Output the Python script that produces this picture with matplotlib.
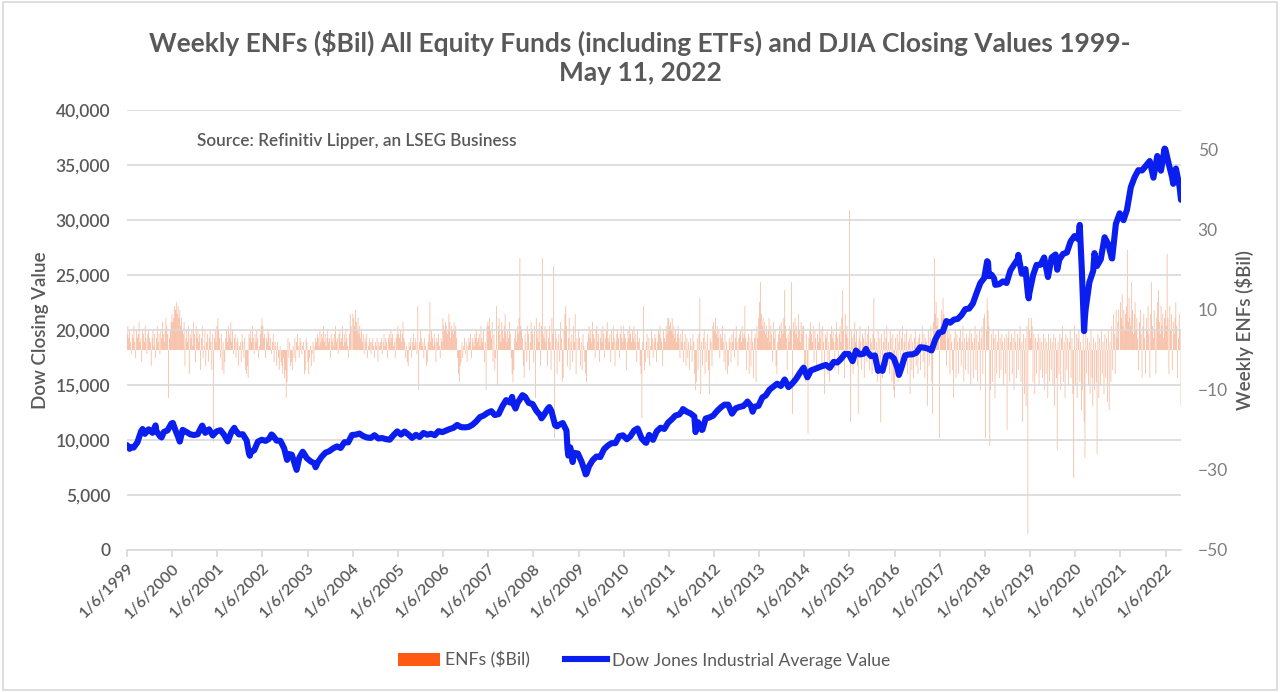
import matplotlib
matplotlib.use('Agg')
import matplotlib.pyplot as plt
from matplotlib.patches import Patch, Rectangle
from matplotlib.lines import Line2D
from matplotlib.ticker import FuncFormatter
import pandas as pd

plt.rcParams['font.family'] = ['Lato', 'DejaVu Sans']

# ---------------- DATA ----------------
title = "Weekly ENFs ($Bil) All Equity Funds (including ETFs) and DJIA Closing Values 1999-\nMay 11, 2022"
source_note = "Source: Refinitiv Lipper, an LSEG Business"
left_label = "Dow Closing Value"
right_label = "Weekly ENFs ($Bil)"
bar_series_name = "ENFs ($Bil)"
line_series_name = "Dow Jones Industrial Average Value"

tick_years = list(range(1999, 2023))
tick_labels = [f"1/6/{y}" for y in tick_years]

# Weekly equity net flows ($Bil), one value per Wednesday of each year
enf_1999 = [4, 6, 3, 5, 2, -1, 4, 3, 6, 2, -2, 5, 3, 4, 7, 2, 3, -3, 5, 4, 2, 6, 3, -1, 4, 5, 3, 2, -4, 3, 5, 1, 4, -2, 3, 6, 2, 4, -1, 5, 3, 7, 4, 2, 5, 8, 6, 4, -12, 3, 5, 7]
enf_2000 = [9, 7, 8, 11, 10, 12, 9, 11, 8, 10, 6, 8, 5, 4, 7, -4, 3, 5, 2, 6, -6, 4, 3, 5, 1, 7, 4, -3, 6, 3, 5, 2, 4, -5, 3, 6, -2, 1, 5, -4, 2, 4, -3, 3, 5, 2, -5, 4, -23, 3, 5, 2]
enf_2001 = [6, 8, 5, 3, -2, 4, -5, 2, -6, -3, 3, 5, 2, 6, 4, 3, 7, 2, 5, -1, 3, 4, -2, 2, 3, -4, 1, 2, -3, 4, 2, -2, 3, -5, -6, -4, -7, 4, 3, 5, 2, 6, 3, -1, 4, 2, 5, 3, -2, 1, 4, 6]
enf_2002 = [8, 6, 3, 4, -2, 3, 2, 5, 4, 1, 3, -1, 2, 4, -3, 2, 1, -4, 2, -2, -5, 1, -3, -4, -6, -2, -7, -5, -12, -8, 3, -2, 2, -4, -3, -5, 1, -2, 3, -3, 2, 4, 1, -2, 3, 2, -1, 1, 2, -6, -5, 3]
enf_2003 = [2, -3, -6, -2, 1, -4, -1, 2, -3, 1, 3, 2, 4, 3, 1, 5, 2, 4, 3, 6, 2, 4, 1, 3, 5, 2, 3, -2, 4, 2, 3, 1, 4, 6, 2, 3, -1, 4, 5, 2, 3, 6, 1, 4, 2, 5, 3, 1, -2, 4, 9, 6]
enf_2004 = [9, 8, 6, 10, 7, 5, 8, 4, 6, 3, 5, 2, 4, -1, 3, 2, 4, -2, 1, 3, 2, -1, 2, 3, 1, -2, 2, 1, 3, -3, 2, 1, 2, 3, -1, 2, 4, 1, 3, 2, -2, 3, 4, 2, 5, 3, 4, 1, 2, -2, 3, 4]
enf_2005 = [6, 4, 3, 5, 2, 4, 7, 3, 2, -2, 1, -3, -4, 2, 1, 3, -2, 2, 4, 1, 3, 2, -1, 11, -10, 2, 5, 3, 1, 2, -2, 3, 1, -4, -3, 2, 4, 12, 2, 5, 3, 1, 4, 2, -3, 3, 2, 4, 1, -2, 3, 2]
enf_2006 = [8, 6, 5, 7, 6, 4, 5, 9, 7, 3, 6, 5, 4, 7, 5, 6, 3, -2, -6, -8, -4, -3, 2, -2, 1, 3, -1, 2, -3, 1, 3, 2, 4, -2, 3, 2, 1, 4, 3, 5, 2, 3, 4, 1, 6, 3, 2, 5, -3, 2, -10, 6]
enf_2007 = [7, 6, 8, 5, 3, 7, -3, 4, -5, -2, 11, -9, 6, 8, 4, 2, 7, 5, 3, 6, 9, 4, 2, 5, 3, 7, 4, -2, -6, -8, -5, 3, 5, 2, 6, 4, 8, 23, 6, 5, 3, -4, -7, 4, 2, -3, 6, 4, -5, 2, 7, 5]
enf_2008 = [4, -3, 6, -12, 8, 3, 5, 2, 7, -4, 6, 23, 4, 3, 6, 2, 5, -4, 3, 6, 2, -5, 8, 4, 21, -22, 5, 3, -6, 2, 4, -3, 7, 3, -8, -7, 5, 9, 11, 6, -4, 3, 8, -5, 2, 4, -3, 6, 2, 9, -6, 3]
enf_2009 = [5, 3, -4, 2, -5, 4, 1, -3, -6, -8, 2, 4, 6, 3, 5, 2, 7, 4, 3, -2, 5, 6, 2, 4, -3, 3, 5, 2, 6, 4, -2, 3, 5, 7, 3, 2, 4, -3, 5, 2, 6, 3, -4, 2, 4, 5, 3, -2, 4, 6, 3, 2]
enf_2010 = [6, 4, 3, -5, 2, 5, 3, 6, 4, 2, 5, 3, 6, 2, 4, -3, 5, 2, 3, -4, -6, -17, 2, 11, -5, -3, 2, 4, -2, 3, -4, 1, 5, 3, -2, 2, 4, 3, -3, 2, 5, 4, 6, 3, 2, -4, 5, 3, 2, 6, 4, 8]
enf_2011 = [8, 6, 7, 5, 8, 4, 6, 3, 5, 2, 4, 6, 3, -2, 4, 2, 5, -3, 2, 4, -4, 3, -2, 2, -5, 3, 1, -3, 4, 2, -6, -10, -8, 3, -5, 4, 13, -11, 2, -4, 3, 5, -6, 2, -3, 4, -5, -11, 3, 2, -4, 6]
enf_2012 = [7, 5, 8, 4, 6, 3, 5, -2, 4, 3, 6, 2, -3, 4, -5, 2, -6, -4, 3, 2, -3, 4, 2, 5, -2, 3, 6, 2, -4, 3, 4, 5, 2, 6, 3, 4, 11, 3, -5, 2, 4, -6, 3, -4, 5, 2, -7, 3, 4, -8, 6, 3]
enf_2013 = [8, 12, 17, 9, 6, 8, 5, 7, 4, 6, 3, 5, 8, 2, 6, 4, -3, 7, 3, 5, -4, -6, 2, 4, 6, 3, 7, 5, 4, 8, 15, 6, 3, -5, 4, 2, 6, 5, 17, -16, 7, 5, 8, 4, 6, 3, 9, 5, 2, 7, 4, 6]
enf_2014 = [6, -4, -8, 4, -6, -21, 3, 5, 7, 4, 2, 6, -3, 5, 3, -5, 4, 2, 7, 3, 5, -4, 6, 2, -11, 4, 3, 5, -6, 2, -8, 4, 6, 3, 5, 2, -5, 4, 7, 3, -6, 4, 6, 2, 8, 15, 5, -7, 9, 4, 6, 3]
enf_2015 = [35, -18, 5, 3, -6, 4, 7, 2, 5, -4, -16, 3, 6, 2, -5, 4, 3, -7, 5, 2, -3, 4, 6, -5, 3, 2, -6, 4, 13, 3, -4, 2, -8, 5, -6, 3, -18, 4, -7, 2, 5, -5, 3, 6, -4, 2, -6, 5, 3, -8, 4, -10]
enf_2016 = [-12, 3, -6, 4, -8, 2, 5, -4, 3, 6, -5, 2, 4, -3, 5, -6, 2, 3, -11, 4, -5, 2, -7, 3, 5, -4, 2, -6, 3, 4, -5, 2, 6, -3, 4, -7, 3, 2, -14, 5, -4, 3, 6, -8, -16, 7, 23, 9, 12, 6, 8, 4]
enf_2017 = [-22, 6, 10, 8, 13, 9, 5, 7, -4, 6, 3, 5, -6, 4, 2, -5, -12, 3, 5, -7, 4, 2, -6, 3, 5, -4, 2, 6, -8, 3, -5, 4, 2, -6, 3, 5, -9, 4, 2, -7, 3, 6, -5, 4, -8, 2, 5, -10, 3, 6, -6, 8]
enf_2018 = [9, -22, 5, 13, 10, 6, -24, -10, 4, -8, 5, 3, -12, 4, -6, 2, 5, -7, 3, -5, 4, 2, -9, 3, -6, 4, -20, 3, 5, -8, 2, 4, -6, 3, -10, 5, 2, -7, 4, -5, 3, 6, -8, 2, -18, 4, -11, 3, -14, 6, -46, 8]
enf_2019 = [5, 3, 8, 6, -8, 4, -11, 3, -6, 2, 4, -9, 3, -5, 2, -7, 4, -10, 3, -6, 2, -12, 4, -8, 3, -5, 2, -9, 4, -14, 3, -7, -25, 2, -6, 4, -10, 3, 6, -8, 2, -12, 4, -5, 3, -9, 2, 5, -7, 3, -11, -32]
enf_2020 = [6, -9, 4, -12, 3, 5, -8, 2, -15, -10, 4, -18, -27, 4, -6, 3, -9, 2, -11, 5, -7, -14, 3, -10, 2, -8, -26, 4, -12, 3, -9, 5, -6, 2, -11, 4, -7, 3, -13, 5, -15, 2, -8, 6, -5, 9, 4, -6, 10, 3, 7, 10]
enf_2021 = [12, 8, 14, 6, 10, 5, 9, 11, 25, 7, 13, 8, 6, 17, 10, 4, 9, 12, 5, 8, 3, -5, 7, 10, 4, -7, 6, 9, 3, -6, 8, 5, 11, 4, -7, 9, 17, 6, 3, 10, 5, -6, 8, 12, 15, 7, 4, 11, 6, 9, 3, 8]
enf_2022 = [10, 6, 24, 8, -6, 11, 5, 9, -5, 7, 4, 8, 12, 6, -7, 3, 9, 5, -14]

# DJIA month-end closes
dow_1999 = [9359, 9307, 9786, 10789, 10560, 10971, 10655, 10829, 10337, 10729, 10878, 11497]
dow_2000 = [10941, 10128, 10922, 10734, 10522, 10448, 10522, 11215, 10651, 10971, 10415, 10787]
dow_2001 = [10887, 10495, 9879, 10735, 10912, 10502, 10523, 9950, 8848, 9075, 9852, 10021]
dow_2002 = [9920, 10106, 10404, 9946, 9925, 9243, 8737, 8664, 7592, 8397, 8896, 8342]
dow_2003 = [8054, 7891, 7992, 8480, 8850, 8985, 9234, 9416, 9275, 9801, 9782, 10454]
dow_2004 = [10488, 10584, 10358, 10226, 10188, 10435, 10140, 10174, 10080, 10027, 10428, 10783]
dow_2005 = [10490, 10766, 10504, 10193, 10467, 10275, 10641, 10482, 10569, 10440, 10806, 10718]
dow_2006 = [10865, 10993, 11109, 11367, 11168, 11150, 11186, 11381, 11679, 12081, 12222, 12463]
dow_2007 = [12622, 12269, 12354, 13063, 13628, 13409, 13212, 13358, 13896, 13930, 13372, 13265]
dow_2008 = [12650, 12266, 12263, 12820, 12638, 11350, 11378, 11544, 10851, 9325, 8829, 8776]
dow_2009 = [8001, 7063, 7609, 8168, 8500, 8447, 9172, 9496, 9712, 9713, 10345, 10428]
dow_2010 = [10067, 10325, 10857, 11009, 10137, 9774, 10466, 10015, 10788, 11118, 11006, 11578]
dow_2011 = [11892, 12226, 12320, 12811, 12570, 12414, 12143, 11614, 10913, 11955, 12046, 12218]
dow_2012 = [12633, 12952, 13212, 13214, 12393, 12880, 13009, 13091, 13437, 13096, 13026, 13104]
dow_2013 = [13861, 14054, 14579, 14840, 15116, 14910, 15500, 14810, 15130, 15546, 16086, 16577]
dow_2014 = [15699, 16322, 16458, 16581, 16717, 16827, 16563, 17098, 17043, 17391, 17828, 17823]
dow_2015 = [17165, 18133, 17776, 17841, 18011, 17620, 17690, 16528, 16285, 17664, 17720, 17425]
dow_2016 = [16466, 16517, 17685, 17774, 17787, 17930, 18432, 18401, 18308, 18142, 19124, 19763]
dow_2017 = [19864, 20812, 20663, 20941, 21009, 21350, 21891, 21948, 22405, 23377, 24272, 24719]
dow_2018 = [26149, 25029, 24103, 24163, 24416, 24271, 25415, 25965, 26458, 25116, 25538, 23327]
dow_2019 = [24999, 25916, 25929, 26593, 24815, 26600, 26864, 26403, 26917, 27046, 28051, 28538]
dow_2020 = [28256, 25409, 21917, 24346, 25383, 25813, 26428, 28430, 27782, 26502, 29639, 30606]
dow_2021 = [29983, 30932, 32982, 33875, 34529, 34503, 34935, 35361, 33844, 35820, 34484, 36338]
dow_2022 = [35132, 33893, 34678, 32977]

# DJIA weekly (Wednesday) closes at turning points
dow_extra_dates = ["1999-01-06", "1999-01-27", "1999-05-12", "1999-08-25", "1999-10-13",
                   "2000-01-12", "2000-03-08", "2000-09-06", "2001-05-23", "2001-09-19",
                   "2001-09-26", "2002-03-20", "2002-07-24", "2002-10-09", "2002-11-27",
                   "2003-03-12", "2007-07-18", "2007-08-15", "2007-10-10", "2008-03-12",
                   "2008-05-14", "2008-07-16", "2008-10-08", "2008-10-15", "2008-11-19",
                   "2009-03-04", "2009-03-11", "2010-04-28", "2010-07-07", "2011-04-27",
                   "2011-08-10", "2011-10-05", "2012-10-03", "2012-11-14", "2015-05-20",
                   "2015-08-26", "2016-02-10", "2018-01-24", "2018-02-07", "2018-03-21",
                   "2018-10-03", "2018-12-19", "2018-12-26", "2019-08-14", "2020-02-12",
                   "2020-03-18", "2020-03-25", "2020-06-10", "2020-10-28", "2021-12-29",
                   "2022-01-05", "2022-03-09", "2022-05-11"]
dow_extra_values = [9538, 9200, 11000, 11326, 10232,
                    11551, 9856, 11310, 11105, 8759,
                    8568, 10500, 8191, 7286, 8931,
                    7524, 13918, 12861, 14078, 11970,
                    12992, 11239, 9258, 8578, 7997,
                    6876, 6930, 11045, 9743, 12690,
                    10719, 10939, 13495, 12570, 18285,
                    16285, 15914, 26252, 24893, 24683,
                    26828, 23323, 22878, 25479, 29551,
                    19898, 21200, 26990, 26519, 36488,
                    36408, 33286, 31834]

# ---------------- BUILD SERIES ----------------
enf_years = {1999: enf_1999, 2000: enf_2000, 2001: enf_2001, 2002: enf_2002, 2003: enf_2003,
             2004: enf_2004, 2005: enf_2005, 2006: enf_2006, 2007: enf_2007, 2008: enf_2008,
             2009: enf_2009, 2010: enf_2010, 2011: enf_2011, 2012: enf_2012, 2013: enf_2013,
             2014: enf_2014, 2015: enf_2015, 2016: enf_2016, 2017: enf_2017, 2018: enf_2018,
             2019: enf_2019, 2020: enf_2020, 2021: enf_2021, 2022: enf_2022}
enf_dates, enf_vals = [], []
for yr, vals in enf_years.items():
    d = pd.date_range(f"{yr}-01-01", periods=len(vals), freq="W-WED")
    enf_dates.extend(d)
    enf_vals.extend(vals)

dow_years = {1999: dow_1999, 2000: dow_2000, 2001: dow_2001, 2002: dow_2002, 2003: dow_2003,
             2004: dow_2004, 2005: dow_2005, 2006: dow_2006, 2007: dow_2007, 2008: dow_2008,
             2009: dow_2009, 2010: dow_2010, 2011: dow_2011, 2012: dow_2012, 2013: dow_2013,
             2014: dow_2014, 2015: dow_2015, 2016: dow_2016, 2017: dow_2017, 2018: dow_2018,
             2019: dow_2019, 2020: dow_2020, 2021: dow_2021, 2022: dow_2022}
dow = []
for yr, vals in dow_years.items():
    d = pd.date_range(f"{yr}-01-01", periods=len(vals), freq="ME")
    dow.extend(zip(d, vals))
dow.extend(zip(pd.to_datetime(dow_extra_dates), dow_extra_values))
dow_df = pd.DataFrame(dow, columns=["date", "value"]).sort_values("date")
dow_df = dow_df[dow_df["date"] <= pd.Timestamp("2022-05-11")]

# ---------------- PLOT ----------------
W, H = 1280, 692
fig = plt.figure(figsize=(W / 100, H / 100), dpi=100)
fig.patches.append(Rectangle((0.002, 0.003), 0.996, 0.994, transform=fig.transFigure,
                             fill=False, edgecolor="#D9D9D9", linewidth=1.2))

ax = fig.add_axes([127 / W, 1 - 550 / H, (1181 - 127) / W, (550 - 110) / H])
ax2 = ax.twinx()

grey = "#595959"
bars = ax2.bar(enf_dates, enf_vals, width=6.5, color="#F07A45", alpha=0.5, linewidth=0)
for b in bars:
    b.set_snap(False)
ax2.set_ylim(-50, 60)
ax2.set_yticks([-50, -30, -10, 10, 30, 50])

ax.plot(dow_df["date"], dow_df["value"], color="#0A1EF0", linewidth=4.4,
        solid_joinstyle="round", solid_capstyle="round")
ax.set_ylim(0, 40000)
ax.set_yticks(range(0, 40001, 5000))
ax.yaxis.set_major_formatter(FuncFormatter(lambda v, p: f"{int(v):,}"))
ax.grid(axis="y", color="#D9D9D9", linewidth=1.2)
ax.set_zorder(ax2.get_zorder() + 1)
ax.patch.set_visible(False)

ax.set_xlim(pd.Timestamp("1999-01-06"), pd.Timestamp("2022-05-11"))
ax.set_xticks([pd.Timestamp(f"{y}-01-06") for y in tick_years])
ax.set_xticklabels(tick_labels, rotation=45, ha="right", rotation_mode="anchor",
                   fontsize=11.5, color=grey, fontweight="semibold")

for a in (ax, ax2):
    for s in a.spines.values():
        s.set_visible(False)
ax.spines["bottom"].set_visible(True)
ax.spines["bottom"].set_color("#D9D9D9")
ax.spines["bottom"].set_linewidth(1.2)
ax.tick_params(axis="x", length=5, color="#D9D9D9", width=1.2, pad=3)
ax.tick_params(axis="y", length=0, labelsize=12.5, labelcolor=grey, pad=12)
for t in ax.get_yticklabels():
    t.set_fontweight("semibold")
ax2.tick_params(axis="y", length=0, labelsize=12.5, labelcolor="#7F7F7F", pad=12)

ax.set_ylabel(left_label, fontsize=13.5, color=grey, fontweight="semibold", labelpad=5)
ax2.set_ylabel(right_label, fontsize=13.5, color=grey, fontweight="semibold", labelpad=5)

fig.text(0.5, 1 - 57 / H, title, ha="center", va="center", fontsize=19,
         fontweight="bold", color=grey, linespacing=1.25)
fig.text(197 / W, 1 - 141 / H, source_note, ha="left", va="center", fontsize=12.3,
         color=grey, fontweight="semibold")

handles = [Patch(facecolor="#FF5A14", edgecolor="none"),
           Line2D([0], [0], color="#0A1EF0", linewidth=4.4)]
fig.legend(handles, [bar_series_name, line_series_name], loc="center",
           bbox_to_anchor=(0.503, 1 - 660 / H), ncol=2, frameon=False,
           fontsize=12.6, labelcolor=grey, handlelength=2.4, handleheight=0.8,
           columnspacing=2.0, handletextpad=0.3)

fig.savefig("out.png", dpi=100)
